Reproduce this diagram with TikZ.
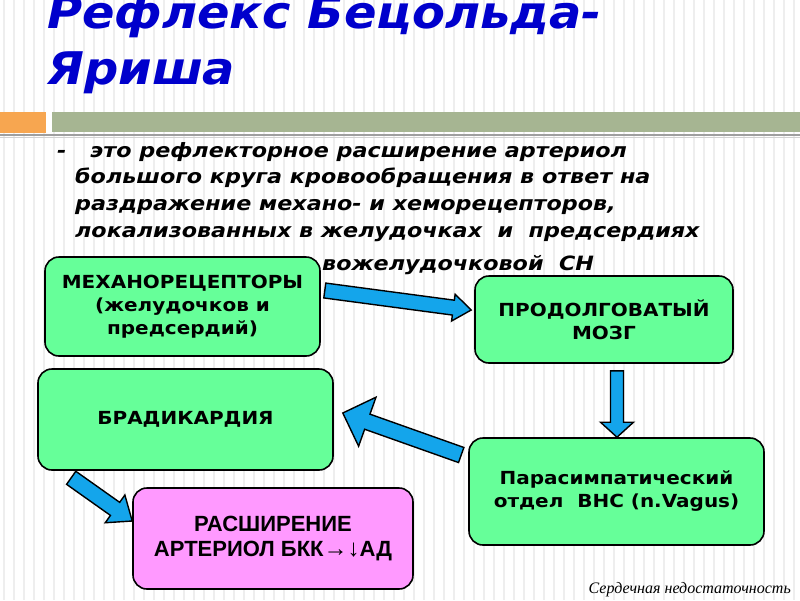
\documentclass[tikz,border=0pt]{standalone}
\usepackage{fontspec}
\usetikzlibrary{calc}
\setmainfont{DejaVu Sans}
\newfontfamily\titlefont[FakeStretch=1.065]{DejaVu Sans}
\newfontfamily\deffont[FakeStretch=1.13]{DejaVu Sans}
\newfontfamily\boxfont[FakeStretch=1.11]{DejaVu Sans}
\newfontfamily\narrowfont{Liberation Sans}
\newfontfamily\notefont{Liberation Serif}
\definecolor{boxgreen}{RGB}{102,255,153}
\definecolor{boxpink}{RGB}{255,153,255}
\definecolor{arrowblue}{RGB}{20,165,235}
\definecolor{titleblue}{RGB}{0,0,204}
\definecolor{barorange}{RGB}{247,166,80}
\definecolor{bargreen}{RGB}{166,181,146}
\definecolor{stripe}{RGB}{238,238,238}
\tikzset{
  box/.style={draw=black, line width=1.6pt, rounded corners=14pt, inner sep=0pt,
    align=center, font=\boxfont\bfseries\fontsize{18}{23}\selectfont},
  greenbox/.style={box, fill=boxgreen},
  pinkbox/.style={box, fill=boxpink, font=\narrowfont\bfseries\fontsize{22}{25}\selectfont},
  barrow/.style={fill=arrowblue, draw=black, line width=1.4pt, line join=miter},
  deftext/.style={anchor=base west, inner sep=0pt, font=\deffont\bfseries\itshape\fontsize{19.7}{26}\selectfont},
  titletext/.style={anchor=base west, inner sep=0pt, text=titleblue, font=\titlefont\bfseries\itshape\fontsize{45}{52}\selectfont}
}
\newcommand\blockarrow[5]{%
  \coordinate (bah) at ($(#2)!#5!(#1)$);
  \draw[barrow] ($(#1)!#3!90:(#2)$) -- ($(bah)!#3!90:(#2)$) -- ($(bah)!#4!90:(#2)$) -- (#2)
    -- ($(bah)!#4!-90:(#2)$) -- ($(bah)!#3!-90:(#2)$) -- ($(#1)!#3!-90:(#2)$) -- cycle;
}
\begin{document}
\begin{tikzpicture}[x=1pt,y=-1pt]
\useasboundingbox (0,0) rectangle (800,600);
\fill[white] (0,0) rectangle (800,600);
\foreach \i in {0,...,80} {\draw[stripe, line width=2.4pt] (\i*10+4,0) -- (\i*10+4,600);}
% title
\node[titletext] (t1) at (47,28) {Рефлекс Бецольда-};
\node[titletext] (t2) at (47,84) {Яриша};
% bars
\fill[barorange] (0,112) rectangle (46,133);
\fill[bargreen] (52,112) rectangle (800,132);
\draw[gray!75, line width=2pt] (0,135) -- (800,135);
\draw[gray!35, line width=1pt] (0,137.5) -- (800,137.5);
% definition text
\node[deftext] (d0) at (57,157) {-};
\node[deftext] (l1) at (90,157) {это рефлекторное расширение артериол};
\node[deftext] (l2) at (75,183) {большого круга кровообращения в ответ на};
\node[deftext] (l3) at (75,210) {раздражение механо- и хеморецепторов,};
\node[deftext] (l4) at (75,237) {локализованных в желудочках \ и \ предсердиях};
\node[deftext] (l5) at (322,270) {вожелудочковой \ СН};
% boxes
\node[greenbox, minimum width=275pt, minimum height=99pt] (m) at (182.5,306.5)
  {МЕХАНОРЕЦЕПТОРЫ\\(желудочков и\\предсердий)};
\node[greenbox, minimum width=258pt, minimum height=87pt] (p) at (604,319.5)
  {ПРОДОЛГОВАТЫЙ\\МОЗГ};
\node[greenbox, minimum width=295pt, minimum height=101pt] (b) at (185.5,419.5)
  {БРАДИКАРДИЯ};
\node[greenbox, minimum width=295pt, minimum height=107pt] (v) at (616.5,491.5)
  {Парасимпатический\\отдел \ ВНС (n.Vagus)};
\node[pinkbox, minimum width=280pt, minimum height=101pt] (r) at (273,538.5)
  {РАСШИРЕНИЕ\\АРТЕРИОЛ БКК{\fontsize{24}{25}\selectfont→↓}АД};
% arrows
\coordinate (a1s) at ($(m.east)+(4,-16)$);
\coordinate (a1e) at ($(p.west)+(-3,-9.5)$);
\blockarrow{a1s}{a1e}{7.5pt}{13.5pt}{18pt}
\coordinate (a2s) at ($(p.south)+(13,7)$);
\coordinate (a2e) at ($(v.north)+(0.5,0)$);
\blockarrow{a2s}{a2e}{6.5pt}{16.5pt}{15pt}
\coordinate (a3s) at ($(v.west)+(-7,-36.5)$);
\coordinate (a3e) at ($(b.east)+(9,-6.5)$);
\blockarrow{a3s}{a3e}{8pt}{26pt}{26pt}
\coordinate (a4s) at ($(b.south west)+(34,7)$);
\coordinate (a4e) at ($(r.west)+(0,-17.5)$);
\blockarrow{a4s}{a4e}{8pt}{17pt}{21pt}
% footer
\node[anchor=base east, inner sep=0pt, font=\notefont\itshape\fontsize{16}{18}\selectfont] (ft) at (791,593)
  {Сердечная недостаточность};
\end{tikzpicture}
\end{document}
